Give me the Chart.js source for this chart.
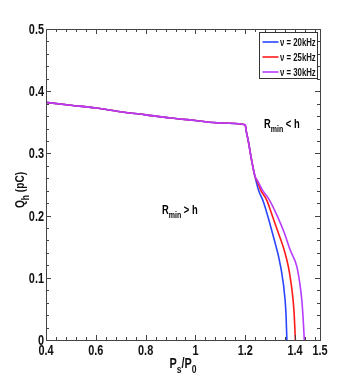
<!DOCTYPE html>
<html>
<head>
<meta charset="utf-8">
<script src="https://cdn.jsdelivr.net/npm/chart.js@4.4.0/dist/chart.umd.min.js"></script>
<style>
  html, body { margin: 0; padding: 0; background: #fff; }
</style>
</head>
<body>
<canvas id="chart" width="354" height="382"></canvas>
<script>
// legend labels and colours
const seriesNames = ['\u03bd = 20kHz', '\u03bd = 25kHz', '\u03bd = 30kHz'];
const seriesColors = ['#2a44ff', '#ff1a1a', '#b83cff'];

// common branch (R_min > h), same for all three frequencies
const commonX = [0.4, 0.5, 0.6, 0.7, 0.8, 0.9, 1.0, 1.1, 1.2, 1.203, 1.212, 1.226, 1.239];
const commonY = [0.382, 0.3775, 0.373, 0.367, 0.362, 0.357, 0.353, 0.349, 0.346, 0.338, 0.320, 0.288, 0.263];

// branches after the split
const x20 = [1.253, 1.273, 1.309, 1.342, 1.360, 1.364, 1.367];
const y20 = [0.241, 0.222, 0.172, 0.118, 0.064, 0.037, 0];
const x25 = [1.247, 1.262, 1.286, 1.310, 1.333, 1.356, 1.373, 1.384, 1.392, 1.397, 1.401];
const y25 = [0.256, 0.241, 0.225, 0.198, 0.172, 0.145, 0.118, 0.091, 0.064, 0.037, 0];
const x30 = [1.248, 1.269, 1.297, 1.330, 1.357, 1.380, 1.407, 1.419, 1.427, 1.432, 1.437];
const y30 = [0.257, 0.241, 0.225, 0.198, 0.172, 0.145, 0.118, 0.091, 0.064, 0.037, 0];

// tick labels
const xTicks = [0.4, 0.6, 0.8, 1, 1.2, 1.4, 1.5];
const yTicks = [0, 0.1, 0.2, 0.3, 0.4, 0.5];

const FONT = "'Liberation Sans', Arial, sans-serif";
const SQUEEZE = 0.78; // narrow look of the original lettering

function pts(xs, ys) {
    let a = commonX.map((x, i) => ({ x: x, y: commonY[i] }));
    return a.concat(xs.map((x, i) => ({ x: x, y: ys[i] })));
}

const branches = [[x20, y20], [x25, y25], [x30, y30]];
const datasets = branches.map((b, i) => ({
    label: seriesNames[i],
    data: pts(b[0], b[1]),
    borderColor: seriesColors[i],
    borderWidth: 1.6,
    pointRadius: 0,
    fill: false,
    tension: 0,
    cubicInterpolationMode: 'monotone',
    order: 2 - i
}));

// text with subscripts, squeezed horizontally: parts = [[text, isSub], ...]
function drawSub(ctx, parts, x, y, size, sub) {
    ctx.save();
    ctx.translate(x, y);
    ctx.scale(SQUEEZE, 1);
    let cx = 0;
    parts.forEach(p => {
        ctx.font = 'bold ' + (p[1] ? sub : size) + 'px ' + FONT;
        ctx.fillText(p[0], cx, p[1] ? size * 0.35 : 0);
        cx += ctx.measureText(p[0]).width;
    });
    ctx.restore();
}
function widthSub(ctx, parts, size, sub) {
    let w = 0;
    parts.forEach(p => {
        ctx.font = 'bold ' + (p[1] ? sub : size) + 'px ' + FONT;
        w += ctx.measureText(p[0]).width;
    });
    return w * SQUEEZE;
}

const decor = {
    id: 'decor',
    afterDraw(chart) {
        const ctx = chart.ctx;
        const a = chart.chartArea;
        const xs = chart.scales.x, ys = chart.scales.y;
        ctx.save();
        // box
        ctx.strokeStyle = '#444';
        ctx.lineWidth = 1;
        ctx.strokeRect(Math.round(a.left) + 0.5, Math.round(a.top) + 0.5,
            Math.round(a.right - a.left), Math.round(a.bottom - a.top));
        // inward ticks
        ctx.beginPath();
        for (let k = 0; k <= 27; k++) {
            let v = 0.4 + k * 0.04;
            let px = Math.round(xs.getPixelForValue(v)) + 0.5;
            let len = xTicks.some(t => Math.abs(t - v) < 1e-6) ? 5 : 3;
            ctx.moveTo(px, a.bottom); ctx.lineTo(px, a.bottom - len);
            ctx.moveTo(px, a.top); ctx.lineTo(px, a.top + len);
        }
        for (let k = 0; k <= 25; k++) {
            let v = k * 0.02;
            let py = Math.round(ys.getPixelForValue(v)) + 0.5;
            let len = k % 5 === 0 ? 5 : 3;
            ctx.moveTo(a.left, py); ctx.lineTo(a.left + len, py);
            ctx.moveTo(a.right, py); ctx.lineTo(a.right - len, py);
        }
        ctx.stroke();

        ctx.fillStyle = '#111';
        ctx.textBaseline = 'alphabetic';
        ctx.textAlign = 'left';
        // tick labels
        xTicks.forEach(v => {
            let t = [[String(v), 0]];
            let w = widthSub(ctx, t, 14, 10);
            drawSub(ctx, t, xs.getPixelForValue(v) - w / 2, 355, 14, 10);
        });
        yTicks.forEach(v => {
            let t = [[String(v), 0]];
            let w = widthSub(ctx, t, 14, 10);
            drawSub(ctx, t, a.left - 2 - w, ys.getPixelForValue(v) + 5, 14, 10);
        });
        // x title  P_s/P_0
        let xt = [['P', 0], ['s', 1], ['/P', 0], ['0', 1]];
        let w = widthSub(ctx, xt, 14, 11);
        drawSub(ctx, xt, (a.left + a.right) / 2 - w / 2, 368, 14, 11);
        // y title  Q_h (pC)
        ctx.save();
        ctx.translate(24, 190);
        ctx.rotate(-Math.PI / 2);
        let yt = [['Q', 0], ['h', 1], [' (pC)', 0]];
        w = widthSub(ctx, yt, 13, 11);
        drawSub(ctx, yt, -w / 2, 0, 13, 11);
        ctx.restore();
        // region annotations
        ctx.fillStyle = '#000';
        drawSub(ctx, [['R', 0], ['min', 1], [' < h', 0]], 264, 128, 12, 9);
        drawSub(ctx, [['R', 0], ['min', 1], [' > h', 0]], 162, 214, 12, 9);

        // legend box
        const lx = 259.5, ly = 32.5, lw = 58, lh = 46;
        ctx.fillStyle = '#fff';
        ctx.fillRect(lx, ly, lw, lh);
        ctx.strokeStyle = '#333';
        ctx.strokeRect(lx, ly, lw, lh);
        chart.data.datasets.forEach((d, i) => {
            let yy = ly + 9.5 + i * 15;
            ctx.strokeStyle = d.borderColor;
            ctx.lineWidth = 1.6;
            ctx.beginPath();
            ctx.moveTo(lx + 3, yy); ctx.lineTo(lx + 19, yy);
            ctx.stroke();
            ctx.fillStyle = '#111';
            drawSub(ctx, [[d.label, 0]], lx + 20.5, yy + 3.5, 10, 8);
        });
        ctx.restore();
    }
};

new Chart(document.getElementById('chart').getContext('2d'), {
    type: 'line',
    data: { datasets: datasets },
    options: {
        responsive: false,
        animation: false,
        layout: { padding: { left: 0, right: 34, top: 29, bottom: 0 } },
        plugins: { legend: { display: false }, tooltip: { enabled: false } },
        scales: {
            x: {
                type: 'linear', min: 0.4, max: 1.5,
                afterBuildTicks: s => { s.ticks = xTicks.map(v => ({ value: v })); },
                afterFit: s => { s.height = 42; },
                grid: { display: false, drawTicks: false },
                border: { display: false },
                ticks: { display: false }
            },
            y: {
                type: 'linear', min: 0, max: 0.5,
                afterBuildTicks: s => { s.ticks = yTicks.map(v => ({ value: v })); },
                afterFit: s => { s.width = 46; },
                grid: { display: false, drawTicks: false },
                border: { display: false },
                ticks: { display: false }
            }
        }
    },
    plugins: [decor]
});
</script>
</body>
</html>
